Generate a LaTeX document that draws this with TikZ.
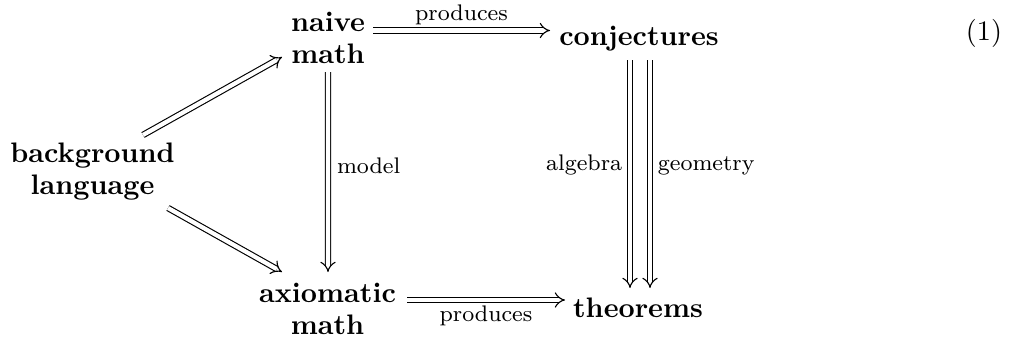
\documentclass[tikz,border=0pt]{standalone}
\usetikzlibrary{arrows.meta}
\begin{document}
\begin{tikzpicture}[x=0.3546pt,y=-0.3546pt,
  every node/.style={inner sep=0pt, outer sep=0pt},
  obj/.style={font=\bfseries\fontsize{10}{11.35}\selectfont, align=center},
  lab/.style={font=\footnotesize},
  dar/.style={double, double distance=1.5pt, line width=0.4pt, -{Implies[scale=1.35]}},
]
\fill[white] (0,0) rectangle (1014,339);
\useasboundingbox (0,0) rectangle (1014,339);
\node[obj] (naive) at (328,37.75) {naive\\math};
\node[obj, anchor=base] (conj) at (639,45) {conjectures};
\node[obj] (bg) at (92.5,172) {background\\language};
\node[obj] (axm) at (327.5,308.75) {axiomatic\\math};
\node[obj, anchor=base] (thm) at (638,317) {theorems};
\node[anchor=base] (eq) at (984,40) {(1)};

\draw[dar] ([shift={(45,-7.25)}]naive.center) -- node[lab, anchor=base, yshift=3.7pt]{produces} ([shift={(-89,-14.5)}]conj.base);
\draw[dar] ([shift={(79.5,-8.75)}]axm.center) -- node[lab, anchor=base, yshift=-7.7pt]{produces} ([shift={(-73,-17)}]thm.base);
\draw[dar] ([shift={(0,34.25)}]naive.center) -- node[lab, anchor=base west, xshift=3.2pt, yshift=-0.5pt]{model} ([shift={(0.5,-36.75)}]axm.center);
\draw[dar] ([shift={(50.5,-37)}]bg.center) -- ([shift={(-46,19.25)}]naive.center);
\draw[dar] ([shift={(75.5,36)}]bg.center) -- ([shift={(-45.5,-36.75)}]axm.center);
\draw[dar] ([shift={(-9,15)}]conj.base) -- node[lab, anchor=base east, xshift=-2.8pt, yshift=1.4pt]{algebra} ([shift={(-8,-29)}]thm.base);
\draw[dar] ([shift={(11,15)}]conj.base) -- node[lab, anchor=base west, xshift=2.8pt, yshift=1.4pt]{geometry} ([shift={(12,-29)}]thm.base);
\end{tikzpicture}
\end{document}
